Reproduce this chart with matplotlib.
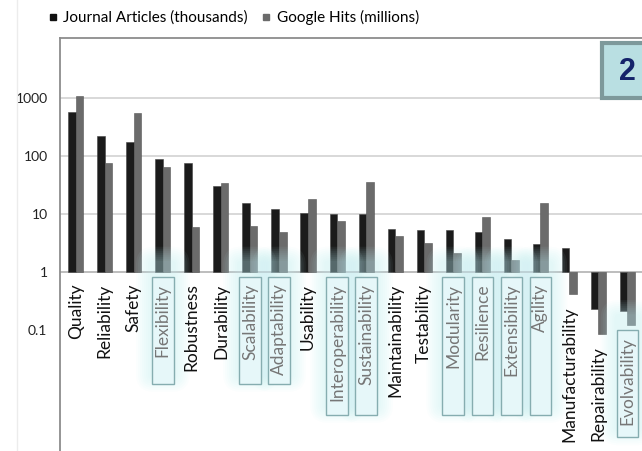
import numpy as np
import matplotlib.pyplot as plt
from matplotlib.patches import FancyBboxPatch, Rectangle
from matplotlib.lines import Line2D
from matplotlib.transforms import IdentityTransform

plt.rcParams['font.family'] = ['Lato', 'DejaVu Sans']

categories = ["Quality", "Reliability", "Safety", "Flexibility", "Robustness",
              "Durability", "Scalability", "Adaptability", "Usability",
              "Interoperability", "Sustainability", "Maintainability",
              "Testability", "Modularity", "Resilience", "Extensibility",
              "Agility", "Manufacturability", "Repairability", "Evolvability"]
articles = [575, 218, 172, 89, 76, 30, 15.5, 12, 10.4, 10, 10, 5.5, 5.3,
            5.2, 4.8, 3.7, 2.97, 2.6, 0.23, 0.21]
hits = [1070, 76, 550, 65, 6.0, 34, 6.1, 4.9, 17.7, 7.4, 35, 4.2, 3.1,
        2.1, 8.9, 1.57, 15.1, 0.41, 0.085, 0.12]
# highlighted labels -> box length in pixels
highlight = {"Flexibility": 107, "Scalability": 107, "Adaptability": 107,
             "Interoperability": 138, "Sustainability": 138, "Modularity": 138,
             "Resilience": 138, "Extensibility": 138, "Agility": 138,
             "Evolvability": 107}
yticks = [0.1, 1, 10, 100, 1000]
ytick_labels = ["0.1", "1", "10", "100", "1000"]

W, H = 642, 451
fig = plt.figure(figsize=(W / 100, H / 100), dpi=100)
ax = fig.add_axes([60 / W, 0, 1 - 60 / W, (H - 38) / H])

x = np.arange(len(categories))
w = 0.26
ax.bar(x - w / 2, np.array(articles) - 1, width=w, bottom=1, color='#1b1b1b',
       edgecolor='#444444', linewidth=0.4, zorder=2)
ax.bar(x + w / 2, np.array(hits) - 1, width=w, bottom=1, color='#6b6b6b',
       edgecolor='#555555', linewidth=0.4, zorder=2)

ax.set_yscale('log')
ax.set_ylim(10 ** -3.09, 10 ** 4.03)
ax.set_xlim(-0.54, len(categories) - 0.5)

for v in yticks[1:]:
    ax.axhline(v, color='#b8b8b8' if v == 1 else '#d6d6d6', lw=1.3, zorder=1)

ax.set_yticks(yticks)
ax.set_yticklabels(ytick_labels)
ax.yaxis.set_minor_locator(plt.NullLocator())
ax.tick_params(axis='y', length=0, pad=9, labelsize=10, labelcolor='#222222')
ax.set_xticks([])
for s in ['right', 'bottom']:
    ax.spines[s].set_visible(False)
for s in ['left', 'top']:
    ax.spines[s].set_color('#8c8c8c')
    ax.spines[s].set_linewidth(1.3)

fig.canvas.draw()
for i, cat in enumerate(categories):
    low = min(1, articles[i], hits[i])
    hl = cat in highlight
    ax.annotate(cat, xy=(i, low), xytext=(0, -8.5), textcoords='offset points',
                rotation=90, ha='center', va='top', fontsize=12.5,
                color='#767676' if hl else '#111111', zorder=6)
    if hl:
        px, py = ax.transData.transform((i, low))
        top = py - 5
        L = highlight[cat]
        bw = 21.5
        for k in range(8):
            g = 2 + k * 2.0
            ax.add_patch(FancyBboxPatch(
                (px - bw / 2, top - L + 8), bw, L + 6,
                boxstyle=f"round,pad={g},rounding_size={g + 2}",
                transform=IdentityTransform(), facecolor='#bdeef4',
                edgecolor='none', alpha=0.06, zorder=3, clip_on=False))
        ax.add_patch(Rectangle((px - bw / 2, top - L), bw, L,
                               transform=IdentityTransform(),
                               facecolor='#e6f7f9', edgecolor='#86adb0',
                               lw=1.0, zorder=4, clip_on=False))

# slide number box
fig.patches.append(Rectangle((602, H - 98), 60, 55, transform=IdentityTransform(),
                             facecolor='#b9dfe2', edgecolor='#7d999b', lw=3,
                             zorder=7))
fig.text(627 / W, (H - 72) / H, "2", fontsize=22, fontweight='bold',
         family='Liberation Sans', color='#14236a', ha='center', va='center',
         zorder=8)

# faint slide edge
fig.add_artist(Line2D([17 / W, 17 / W], [0, 1], color='#ececec', lw=1))

handles = [Line2D([], [], marker='s', ls='', color='#111111', markersize=4.5),
           Line2D([], [], marker='s', ls='', color='#6b6b6b', markersize=4.5)]
fig.legend(handles, ["Journal Articles (thousands)", "Google Hits (millions)"],
           loc='center left', bbox_to_anchor=(48 / W, (H - 17.5) / H), ncol=2,
           frameon=False, fontsize=11, handlelength=0.6, handletextpad=0.4,
           columnspacing=0.9, borderaxespad=0, borderpad=0)

fig.savefig("out.png", dpi=100)
